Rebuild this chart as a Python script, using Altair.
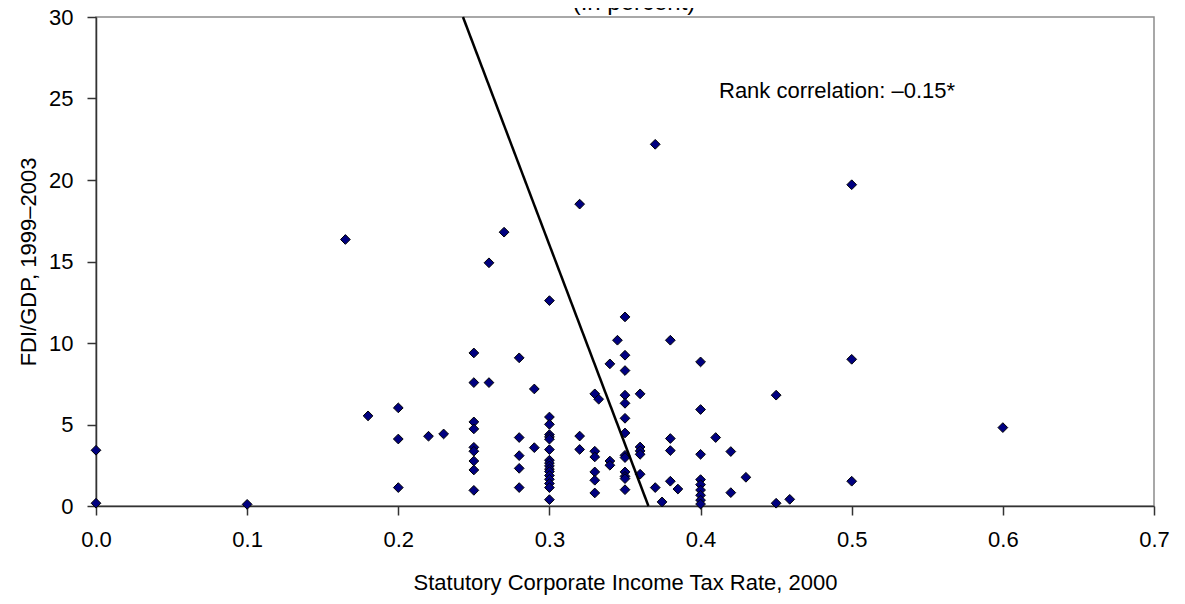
import altair as alt
import pandas as pd

# Scatter data: statutory CIT rate (x) and FDI/GDP (y)
tax_rate = [
    0.0, 0.0,
    0.1,
    0.165,
    0.18,
    0.2, 0.2, 0.2,
    0.22, 0.23,
    0.25, 0.25, 0.25, 0.25, 0.25, 0.25, 0.25, 0.25, 0.25,
    0.26, 0.26,
    0.27,
    0.28, 0.28, 0.28, 0.28, 0.28,
    0.29, 0.29,
    0.30, 0.30, 0.30, 0.30, 0.30, 0.30, 0.30, 0.30, 0.30, 0.30, 0.30, 0.30, 0.30, 0.30, 0.30, 0.30, 0.30,
    0.32, 0.32, 0.32,
    0.33, 0.33, 0.33, 0.33, 0.33, 0.33,
    0.3326,
    0.34, 0.34, 0.34,
    0.345,
    0.35, 0.35, 0.35, 0.35, 0.35, 0.35, 0.35, 0.35, 0.35, 0.35, 0.35, 0.35, 0.35,
    0.36, 0.36, 0.36, 0.36, 0.36,
    0.37, 0.37,
    0.3745,
    0.38, 0.38, 0.38, 0.38,
    0.385,
    0.40, 0.40, 0.40, 0.40, 0.40, 0.40, 0.40, 0.40, 0.40,
    0.41,
    0.42, 0.42,
    0.43,
    0.45, 0.45,
    0.459,
    0.50, 0.50, 0.50,
    0.60,
]
fdi_gdp = [
    3.42, 0.17,
    0.10,
    16.35,
    5.53,
    6.02, 4.11, 1.13,
    4.28, 4.42,
    9.39, 7.57, 5.16, 4.73, 3.60, 3.36, 2.76, 2.21, 0.96,
    7.57, 14.92,
    16.8,
    9.09, 4.2, 3.09, 2.31, 1.13,
    7.18, 3.58,
    12.6, 5.46, 5.01, 4.38, 4.24, 4.1, 3.46, 2.81, 2.64, 2.46, 2.27, 2.11, 1.87, 1.64, 1.38, 1.13, 0.39,
    18.52, 4.29, 3.47,
    6.88, 3.36, 3.01, 2.09, 1.58, 0.80,
    6.55,
    8.72, 2.76, 2.50,
    10.17,
    11.6, 9.25, 8.31, 6.80, 6.30, 5.38, 4.48, 3.11, 2.97, 2.09, 1.82, 1.68, 1.0,
    6.88, 3.62, 3.38, 3.17, 1.95,
    22.19, 1.13,
    0.25,
    10.17, 4.14, 3.4, 1.52,
    1.04,
    8.84, 5.92, 3.17, 1.62, 1.31, 0.98, 0.66, 0.36, 0.12,
    4.2,
    3.34, 0.82,
    1.76,
    6.8, 0.17,
    0.41,
    19.71, 9.0, 1.52,
    4.81,
]

# Fitted line end points
fit_x = [0.2428, 0.3655]
fit_y = [30.0, 0.0]

x_ticks = [0.0, 0.1, 0.2, 0.3, 0.4, 0.5, 0.6, 0.7]
y_ticks = [0, 5, 10, 15, 20, 25, 30]

pts = pd.DataFrame({"rate": tax_rate, "fdi": fdi_gdp})
fit = pd.DataFrame({"rate": fit_x, "fdi": fit_y})

FONT = "Liberation Sans"
FS = 22

xscale = alt.Scale(domain=[0, 0.7], nice=False, zero=False)
yscale = alt.Scale(domain=[0, 30], nice=False)

xaxis = alt.Axis(
    title="Statutory Corporate Income Tax Rate, 2000",
    values=x_ticks, format=".1f", grid=False, labelFlush=False,
    tickSize=9, labelPadding=14, titlePadding=22,
)
yaxis = alt.Axis(
    title="FDI/GDP, 1999\u20132003",
    values=y_ticks, format="d", grid=False, labelFlush=False,
    tickSize=9, labelPadding=14, titlePadding=8,
)

points = alt.Chart(pts).mark_point(
    shape="diamond", filled=True, fill="#000080", stroke="#000000",
    strokeWidth=1, size=95, opacity=1,
).encode(
    x=alt.X("rate:Q", scale=xscale, axis=xaxis),
    y=alt.Y("fdi:Q", scale=yscale, axis=yaxis),
)

line = alt.Chart(fit).mark_line(color="#000000", strokeWidth=2.5).encode(
    x=alt.X("rate:Q", scale=xscale),
    y=alt.Y("fdi:Q", scale=yscale),
)

rank_text = alt.Chart(pd.DataFrame({"t": ["Rank correlation: \u20130.15*"]})).mark_text(
    align="left", baseline="middle", font=FONT, fontSize=FS, color="#000000",
).encode(x=alt.value(623), y=alt.value(74), text="t:N")

title_text = alt.Chart(pd.DataFrame({"t": ["(In percent)"]})).mark_text(
    align="center", baseline="alphabetic", font=FONT, fontSize=24, color="#000000",
).encode(x=alt.value(538), y=alt.value(-7), text="t:N")

chart = alt.layer(points, line, rank_text, title_text).properties(
    width=1058, height=489,
    autosize=alt.AutoSizeParams(type="none"),
    padding={"left": 88, "top": 9, "right": 23, "bottom": 90},
).configure_view(
    stroke="#8c8c8c", strokeWidth=1.5,
).configure_axis(
    labelFont=FONT, titleFont=FONT, labelFontSize=FS, titleFontSize=FS,
    titleFontWeight="normal", labelColor="#000000", titleColor="#000000",
    domainColor="#333333", tickColor="#333333", domainWidth=1.5, tickWidth=1.5,
)

chart.save("out.html", embed_options={"renderer": "svg", "actions": False})
